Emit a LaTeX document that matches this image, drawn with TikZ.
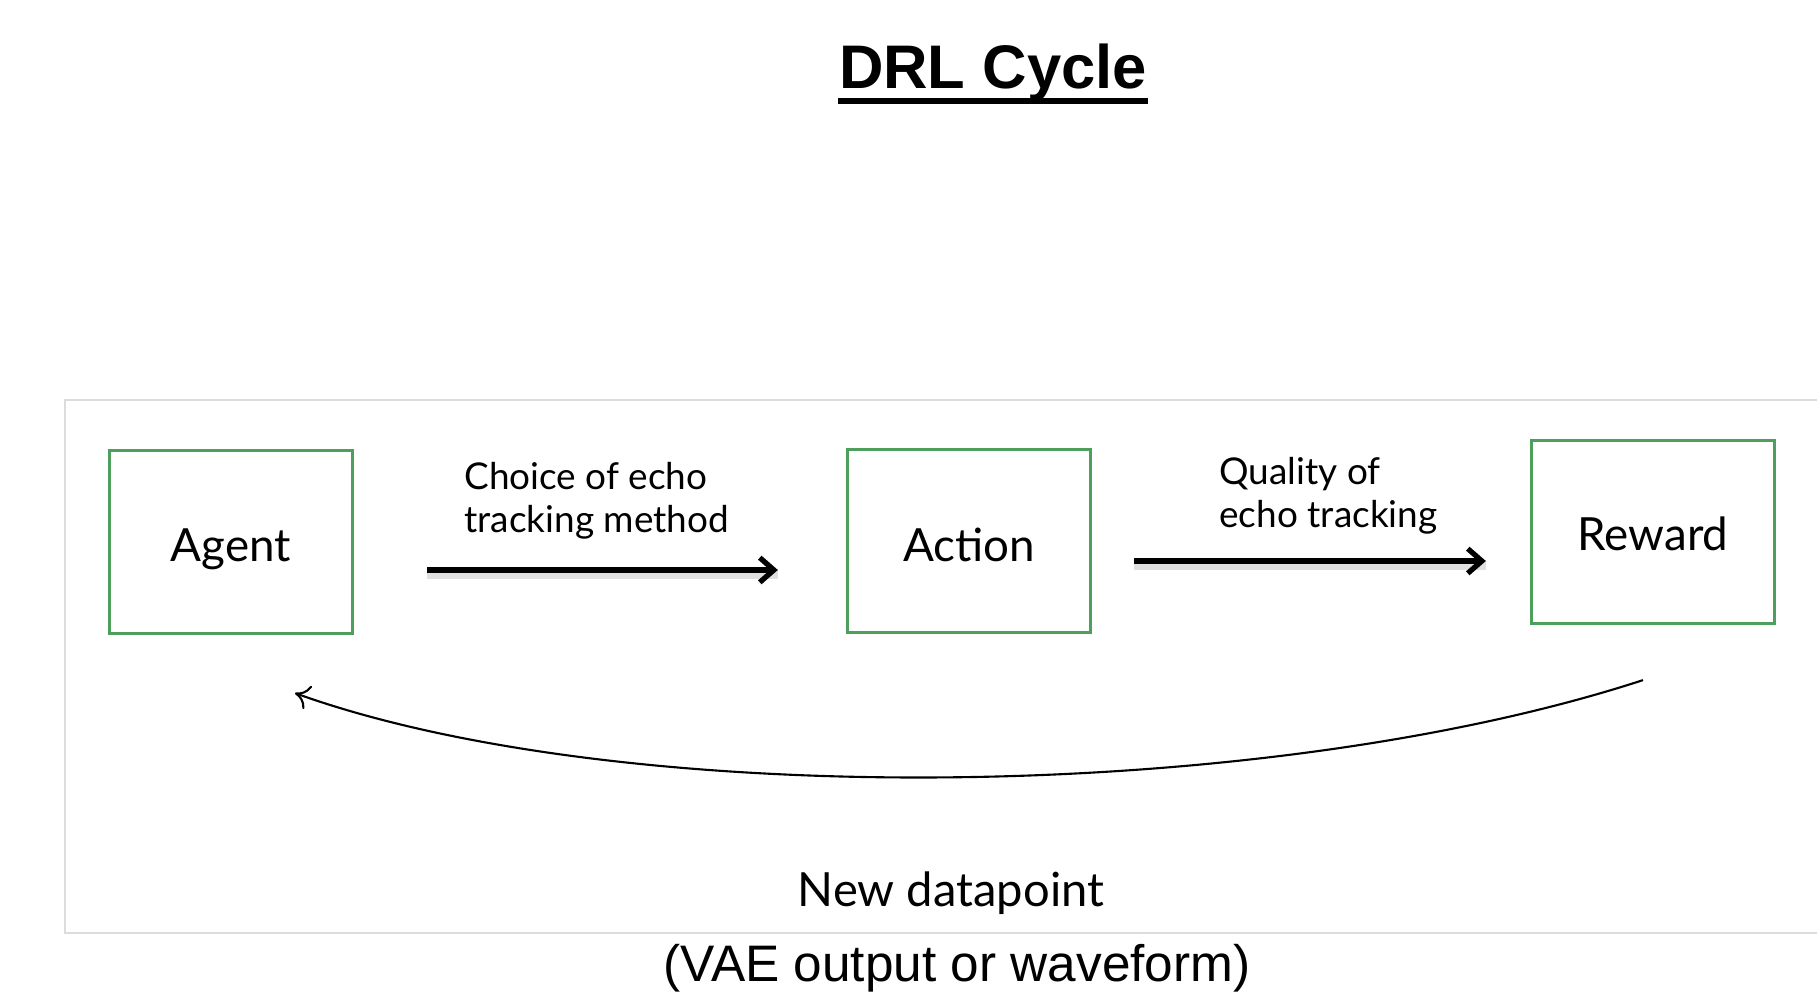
\documentclass[tikz,border=0pt]{standalone}
\usepackage{fontspec}
\setmainfont{Lato}
\newfontfamily\arialfont{Liberation Sans}
\usetikzlibrary{positioning, arrows.meta}
\definecolor{boxgreen}{HTML}{4E9F5B}
\definecolor{panelgray}{HTML}{DCDCDC}

\begin{document}
\begin{tikzpicture}[x=0.01cm, y=-0.01cm,
  stage/.style={draw=boxgreen, line width=0.9pt, minimum width=2.43cm, minimum height=1.83cm,
    text depth=0pt, font=\fontsize{13}{15}\selectfont},
  flow/.style={-{Straight Barb[length=4pt,width=7pt]}, line width=1.5pt,
    preaction={draw, -, black!12, line width=2.6pt, transform canvas={yshift=-1.4pt}}},
  tag/.style={align=left, anchor=west, font=\fontsize{10.5}{12.2}\selectfont}]
\useasboundingbox (0,0) rectangle (1817,1001);
\draw[panelgray, line width=0.5pt] (1817,400) -- (65,400) -- (65,933) -- (1817,933);

\node[font=\arialfont\bfseries\fontsize{17.5}{20}\selectfont, inner sep=0pt, anchor=base] (title) at (993,89) {DRL Cycle};
\draw[line width=1.7pt] ([shift={(0,12)}]title.base west) -- ([shift={(0,12)}]title.base east);

\node[stage] (agent) at (231,542) {\raisebox{-2pt}{Agent}};
\node[stage] (action) at (969,541) {\raisebox{-2pt}{Action}};
\node[stage] (reward) at (1653,532) {\raisebox{-1pt}{Reward}};

\draw[flow] ([shift={(73,28)}]agent.east) -- ([shift={(-68,29)}]action.west);
\draw[flow] ([shift={(42,20)}]action.east) -- ([shift={(-44,29)}]reward.west);
\node[tag] (choice) at (452,501) {Choice of echo\\tracking method};
\node[tag] (quality) at (1207,496) {Quality of\\echo tracking};

\draw[-{To[length=4pt,width=7pt]}, line width=0.6pt] ([shift={(-10,55)}]reward.south)
  .. controls (1260,805) and (620,810) .. ([shift={(64,58)}]agent.south);

\node[font=\fontsize{13.4}{15}\selectfont] (newdata) at (951,893) {New datapoint};
\node[font=\arialfont\fontsize{14.6}{17}\selectfont] (vae) at (957,968) {(VAE output or waveform)};
\end{tikzpicture}
\end{document}
